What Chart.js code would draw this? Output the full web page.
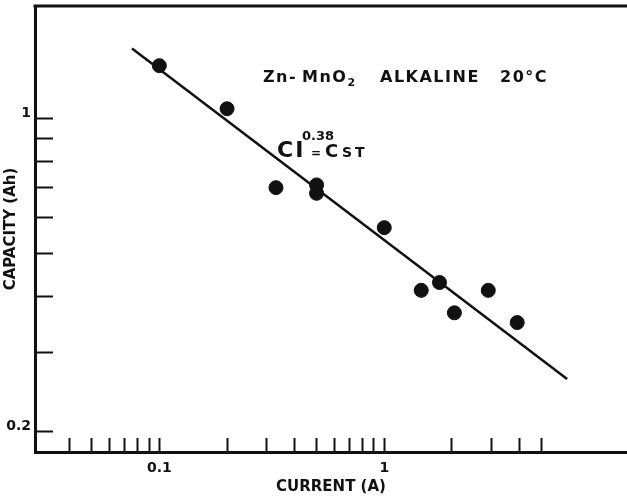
<!DOCTYPE html>
<html>
<head>
<meta charset="utf-8">
<title>Zn-MnO2 alcaline 20°C</title>
<script src="https://cdn.jsdelivr.net/npm/chart.js@4.4.1/dist/chart.umd.min.js"></script>
<style>
    html, body { margin: 0; padding: 0; background: #fff; }
    #zone { width: 627px; height: 500px; }
</style>
</head>
<body>
<div id="zone"><canvas id="myChart" width="627" height="500"></canvas></div>
<script>
const courant = [0.1, 0.2, 0.33, 0.5, 0.5, 1.0, 1.46, 1.76, 2.05, 2.9, 3.9];
const capacite = [1.31, 1.05, 0.70, 0.71, 0.68, 0.57, 0.413, 0.43, 0.368, 0.413, 0.35];

// Droite CI^0.38 = Cst (extrémités)
const droiteCourant = [0.0756, 6.5];
const droiteCapacite = [1.43, 0.262];

// Graduations
const xTicks = [0.04, 0.05, 0.06, 0.07, 0.08, 0.09, 0.1, 0.2, 0.3, 0.4, 0.5, 0.6, 0.7, 0.8, 0.9, 1, 2, 3, 4, 5];
const xTickLabels = ['', '', '', '', '', '', '0.1', '', '', '', '', '', '', '', '', '1', '', '', '', ''];
const yTicks = [0.2, 0.3, 0.4, 0.5, 0.6, 0.7, 0.8, 0.9, 1];
const yTickLabels = ['0.2', '', '', '', '', '', '', '', '1'];

const encre = '#111';
const police = 'DejaVu Sans';

// pas de marge automatique autour des axes
function sansMarge(scale) {
    scale.paddingTop = 0;
    scale.paddingBottom = 0;
    scale.paddingLeft = 0;
    scale.paddingRight = 0;
}

// cadre du haut
const cadre = {
    id: 'cadre',
    afterDraw(chart) {
        const {ctx, chartArea} = chart;
        ctx.save();
        ctx.strokeStyle = encre;
        ctx.lineWidth = 3;
        ctx.beginPath();
        ctx.moveTo(chartArea.left - 1.5, chartArea.top);
        ctx.lineTo(chartArea.right, chartArea.top);
        ctx.stroke();
        ctx.restore();
    }
};

// textes dans le graphique
const annotations = {
    id: 'annotations',
    afterDatasetsDraw(chart) {
        const ctx = chart.ctx;
        const a = chart.chartArea;
        ctx.save();
        ctx.fillStyle = encre;
        ctx.textBaseline = 'alphabetic';
        ctx.textAlign = 'left';

        // Zn- MnO2 ALKALINE 20°C
        let y = a.top + 76;
        ctx.font = `bold 16px "${police}"`;
        ctx.letterSpacing = '1.5px';
        let x = a.left + 228;
        ctx.fillText('Zn-', x, y);
        x = a.left + 267;
        ctx.fillText('MnO', x, y);
        x += ctx.measureText('MnO').width;
        ctx.font = `bold 11px "${police}"`;
        ctx.fillText('2', x, y + 4);
        ctx.font = `bold 16px "${police}"`;
        ctx.fillText('ALKALINE', a.left + 345, y);
        ctx.fillText('20°C', a.left + 465, y);

        // CI^0.38 = Cst
        y = a.top + 151;
        ctx.letterSpacing = '2px';
        ctx.font = `bold 22px "${police}"`;
        ctx.fillText('CI', a.left + 242, y);
        ctx.letterSpacing = '0px';
        ctx.font = `bold 13px "${police}"`;
        ctx.fillText('0.38', a.left + 267, y - 17);
        ctx.font = `bold 12px "${police}"`;
        ctx.fillText('=', a.left + 276, y);
        ctx.letterSpacing = '2px';
        ctx.font = `bold 18px "${police}"`;
        ctx.fillText('C', a.left + 290, y);
        ctx.letterSpacing = '3px';
        ctx.font = `bold 14px "${police}"`;
        ctx.fillText('ST', a.left + 307, y);
        ctx.restore();
    }
};

const ctx = document.getElementById('myChart').getContext('2d');
const chart = new Chart(ctx, {
    type: 'scatter',
    data: {
        datasets: [
            {
                label: 'Mesures',
                data: courant.map((c, i) => ({x: c, y: capacite[i]})),
                backgroundColor: encre,
                borderColor: encre,
                pointRadius: 7,
                pointHoverRadius: 7,
                showLine: false
            },
            {
                label: 'CI^0.38 = Cst',
                data: droiteCourant.map((c, i) => ({x: c, y: droiteCapacite[i]})),
                borderColor: encre,
                borderWidth: 2.5,
                pointRadius: 0,
                showLine: true,
                fill: false
            }
        ]
    },
    options: {
        responsive: false,
        animation: false,
        devicePixelRatio: 1,
        layout: { autoPadding: false, padding: { top: 6, right: 0, left: 0, bottom: 0 } },
        plugins: {
            legend: { display: false },
            tooltip: { enabled: false }
        },
        scales: {
            x: {
                type: 'logarithmic',
                position: 'bottom',
                min: 0.028,
                max: 12,
                afterBuildTicks: (scale) => { scale.ticks = xTicks.map(v => ({value: v})); },
                afterFit: (scale) => { scale.height = 48; sansMarge(scale); },
                ticks: {
                    autoSkip: false,
                    maxRotation: 0,
                    padding: 22,
                    color: encre,
                    font: { family: police, weight: 'bold', size: 14 },
                    callback: (value, index) => xTickLabels[index]
                },
                grid: {
                    drawOnChartArea: false,
                    drawTicks: true,
                    tickLength: -14,
                    tickWidth: 2,
                    tickColor: encre
                },
                border: { display: true, width: 3, color: encre },
                title: {
                    display: true,
                    text: 'CURRENT (A)',
                    color: encre,
                    font: { family: police, weight: 'bold', size: 15 },
                    padding: { top: 0, bottom: 4 }
                }
            },
            y: {
                type: 'logarithmic',
                position: 'left',
                min: 0.18,
                max: 1.78,
                afterBuildTicks: (scale) => { scale.ticks = yTicks.map(v => ({value: v})); },
                afterFit: (scale) => { scale.width = 35; sansMarge(scale); },
                ticks: {
                    autoSkip: false,
                    padding: 22,
                    labelOffset: -5,
                    color: encre,
                    font: { family: police, weight: 'bold', size: 14 },
                    callback: (value, index) => yTickLabels[index]
                },
                grid: {
                    drawOnChartArea: false,
                    drawTicks: true,
                    tickLength: -18,
                    tickWidth: 2,
                    tickColor: encre
                },
                border: { display: true, width: 3, color: encre },
                title: {
                    display: true,
                    text: 'CAPACITY (Ah)',
                    color: encre,
                    font: { family: police, weight: 'bold', size: 15 },
                    padding: { top: 2, bottom: 0 }
                }
            }
        }
    },
    plugins: [cadre, annotations]
});
</script>
</body>
</html>
